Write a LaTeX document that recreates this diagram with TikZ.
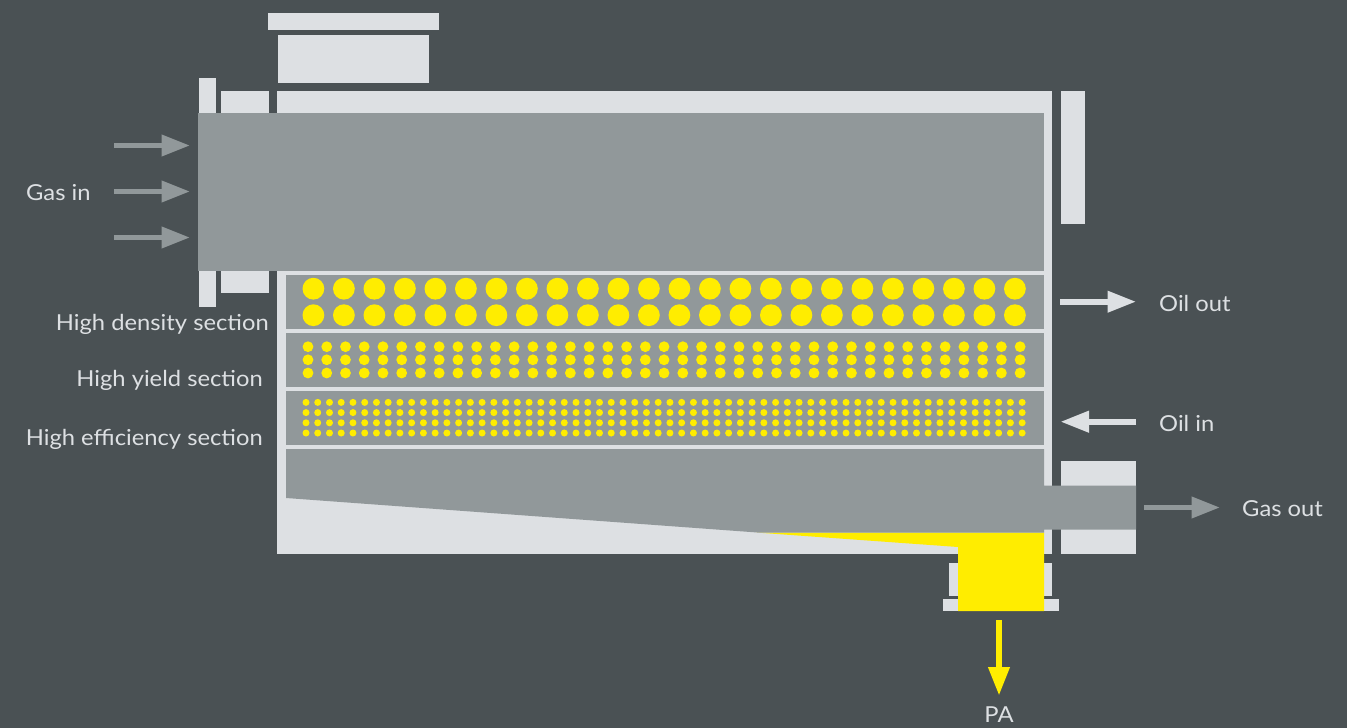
\documentclass[tikz,border=0pt]{standalone}
\usepackage{fontspec}
\setmainfont[FakeStretch=1.08]{Lato}
\usetikzlibrary{arrows.meta}
\definecolor{bgc}{HTML}{4A5154}
\definecolor{lightc}{HTML}{DDE0E3}
\definecolor{grayc}{HTML}{91989A}
\definecolor{yelc}{HTML}{FFED00}
\tikzset{
  lightp/.style={fill=lightc},
  grayp/.style={fill=grayc},
  yelp/.style={fill=yelc},
  flowarrow/.style={line width=5.6pt,-{Triangle[length=28.5pt,width=20.5pt]}},
  lab/.style={text=lightc,font=\fontsize{22}{26}\selectfont,inner sep=0pt}
}
\begin{document}
\begin{tikzpicture}[x=1pt,y=-1pt]
\useasboundingbox (0,0) rectangle (1347,728);
\fill[bgc] (0,0) rectangle (1347,728);
% light parts
\fill[lightp] (268,13) rectangle (438.5,30);
\fill[lightp] (278,35) rectangle (428.5,83);
\fill[lightp] (199,78) rectangle (215.5,113);
\fill[lightp] (199,271) rectangle (215.5,307);
\fill[lightp] (221,91) rectangle (269,113);
\fill[lightp] (221,271) rectangle (269,293);
\fill[lightp] (277,91) rectangle (1052,553.5);
\fill[lightp] (1061,91) rectangle (1085,224);
\fill[lightp] (1061,461) rectangle (1136,486);
\fill[lightp] (1061,529) rectangle (1136,553.5);
\fill[lightp] (949,563) rectangle (1052,595.5);
\fill[lightp] (943,599) rectangle (1059,611);
% gas spaces
\fill[grayp] (198,113) rectangle (1044,271);
\fill[grayp] (286,275) rectangle (1044,329);
\fill[grayp] (286,333) rectangle (1044,387);
\fill[grayp] (286,391) rectangle (1044,445);
\fill[yelp] (756,532.5) -- (1044,532.5) -- (1044,611) -- (958,611) -- (958,547) -- cycle;
\fill[grayp] (286,449) -- (1044,449) -- (1044,485.5) -- (1136,485.5) -- (1136,529.5) -- (1044,529.5) -- (1044,532.7) -- (760,532.7) -- (286,498) -- cycle;
% tubes
\foreach \i in {0,...,23} {
  \fill[yelp] ({313.4+30.5*\i},288.7) circle (10.9);
  \fill[yelp] ({313.4+30.5*\i},315.2) circle (10.9);
}
\foreach \i in {0,...,38} \foreach \r in {346.7,359.8,373} {
  \fill[yelp] ({308+18.74*\i},\r) circle (5.4);
}
\foreach \i in {0,...,61} \foreach \r in {402.4,412.6,422.8,433} {
  \fill[yelp] ({306+11.74*\i},\r) circle (3.5);
}
% arrows
\coordinate (g1a) at (114,145.5); \coordinate (g1b) at (190,145.5);
\coordinate (g2a) at (114,191.5); \coordinate (g2b) at (190,191.5);
\coordinate (g3a) at (114,237.5); \coordinate (g3b) at (190,237.5);
\coordinate (ooa) at (1060,301.7); \coordinate (oob) at (1136,301.7);
\coordinate (oia) at (1136,421.7); \coordinate (oib) at (1060.5,421.7);
\coordinate (goa) at (1144,507.5); \coordinate (gob) at (1220,507.5);
\coordinate (paa) at (999,620); \coordinate (pab) at (999,695.5);
\draw[flowarrow,grayc] (g1a) -- (g1b);
\draw[flowarrow,grayc] (g2a) -- (g2b);
\draw[flowarrow,grayc] (g3a) -- (g3b);
\draw[flowarrow,lightc] (ooa) -- (oob);
\draw[flowarrow,lightc] (oia) -- (oib);
\draw[flowarrow,grayc] (goa) -- (gob);
\draw[flowarrow,yelc] (paa) -- (pab);
% labels
\node[lab,anchor=base west] (gasin) at (26,200) {Gas in};
\node[lab,anchor=base east] (hd) at (269,330) {High density section};
\node[lab,anchor=base east] (hy) at (263,386) {High yield section};
\node[lab,anchor=base east] (he) at (263,445) {High efficiency section};
\node[lab,anchor=base west] (oilout) at (1159,311) {Oil out};
\node[lab,anchor=base west] (oilin) at (1159,431) {Oil in};
\node[lab,anchor=base west] (gasout) at (1242,516) {Gas out};
\node[lab,anchor=base] (pa) at (999,722.5) {PA};
\end{tikzpicture}
\end{document}
